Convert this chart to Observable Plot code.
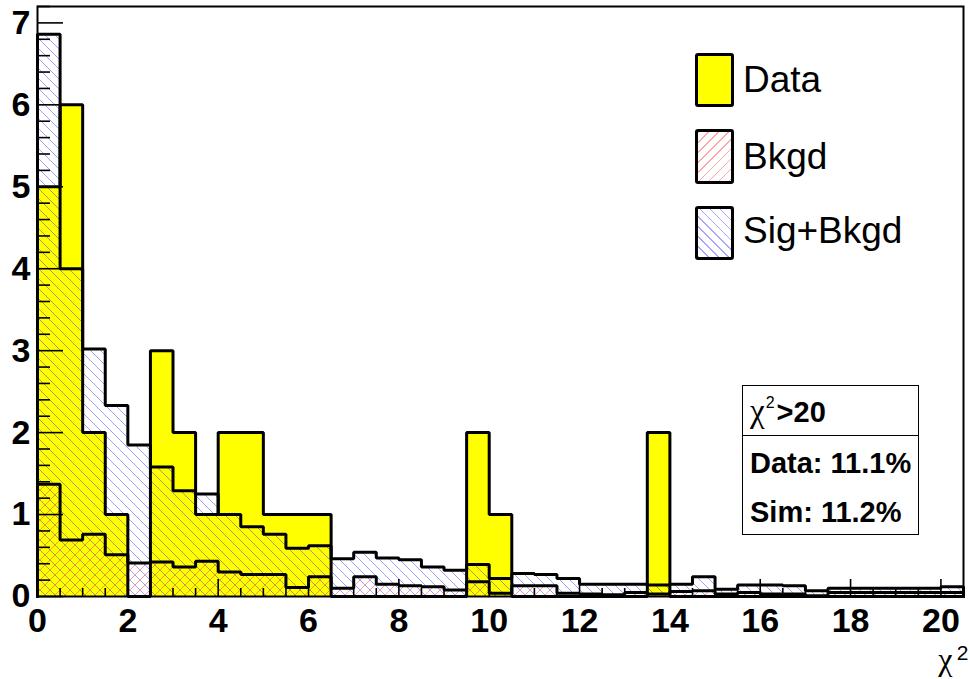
<!DOCTYPE html>
<html>
<head>
<meta charset="utf-8">
<script src="https://cdn.jsdelivr.net/npm/d3@7"></script>
<script src="https://cdn.jsdelivr.net/npm/@observablehq/plot@0.6"></script>
<style>
  html, body { margin: 0; padding: 0; background: #fff; }
  #wrap { position: relative; width: 970px; height: 679px; font-family: "Liberation Sans", Arial, sans-serif; }
  #wrap svg { position: absolute; left: 0; top: 0; }
  .sw { position: absolute; left: 695px; width: 33px; border: 3px solid #000; border-radius: 3px; background: #fff; }
  .lt { position: absolute; left: 743px; font-size: 37px; line-height: 37px; white-space: nowrap; color: #000; }
  #stats { position: absolute; left: 742px; top: 385px; width: 175px; height: 148px; border: 1px solid #000; background: #fff; }
  #stats .div { position: absolute; left: 0; top: 49px; width: 175px; height: 0; border-top: 1px solid #000; }
  .st { position: absolute; left: 7px; font-size: 29px; line-height: 29px; font-weight: bold; white-space: nowrap; }
  .chi { font-family: "Liberation Serif", serif; font-weight: normal; font-size: 33px; }
  .st sup { font-size: 16px; font-weight: normal; vertical-align: 0; position: relative; top: -14px; margin-left: 1px; margin-right: 2px; }
</style>
</head>
<body>
<div id="wrap"></div>
<script>
// ---- data (bins of width 0.5 on chi^2 from 0 to 20.5) ----
const binEdges = [0,0.5,1,1.5,2,2.5,3,3.5,4,4.5,5,5.5,6,6.5,7,7.5,8,8.5,9,9.5,10,
  10.5,11,11.5,12,12.5,13,13.5,14,14.5,15,15.5,16,16.5,17,17.5,18,18.5,19,19.5,20,20.5];
const dataCounts = [5,6,2,1,0,3,2,1,2,2,1,1,1,0,0,0,0,0,0,2,1,0,0,0,0,0,0,2,
  0,0,0,0,0,0,0,0,0,0,0,0,0];
const sigBkgd = [6.86,4.0,3.02,2.33,1.85,1.58,1.29,1.25,1.0,0.85,0.76,0.59,0.62,0.46,0.54,0.47,0.45,0.36,0.32,0.39,0.22,
  0.28,0.27,0.22,0.15,0.15,0.15,0.14,0.15,0.24,0.09,0.14,0.14,0.13,0.07,0.10,0.10,0.10,0.10,0.10,0.12];
const bkgd = [1.37,0.69,0.76,0.51,0.41,0.42,0.36,0.43,0.30,0.27,0.27,0.11,0.24,0.10,0.24,0.15,0.13,0.12,0.08,0.18,0.04,
  0.13,0.13,0.04,0.03,0.02,0.05,0.03,0.06,0.07,0.03,0.05,0.03,0.03,0.01,0.05,0.05,0.05,0.05,0.05,0.05];
const xMajorTicks = [0,2,4,6,8,10,12,14,16,18,20];
const xMinorTicks = [0.5,1,1.5,2.5,3,3.5,4.5,5,5.5,6.5,7,7.5,8.5,9,9.5,10.5,11,11.5,12.5,13,13.5,14.5,15,15.5,16.5,17,17.5,18.5,19,19.5,20.5];
const yMajorTicks = [0,1,2,3,4,5,6,7];
const yMinorTicks = [0.2,0.4,0.6,0.8,1.2,1.4,1.6,1.8,2.2,2.4,2.6,2.8,3.2,3.4,3.6,3.8,4.2,4.4,4.6,4.8,5.2,5.4,5.6,5.8,6.2,6.4,6.6,6.8,7.2];
const legendLabels = ["Data", "Bkgd", "Sig+Bkgd"];
const statsTitle = ">20";
const statsLines = ["Data: 11.1%", "Sim: 11.2%"];

// step outline points for a histogram: (x0,0) -> up -> steps -> (xN,0)
function stepPoints(vals) {
  const n = vals.length;
  const pts = [{x: binEdges[0], y: 0}];
  vals.forEach((v, i) => pts.push({x: binEdges[i], y: v}));
  pts.push({x: binEdges[n], y: vals[n - 1]});
  pts.push({x: binEdges[n], y: 0});
  return pts;
}
const dataPts = stepPoints(dataCounts);
const sigPts = stepPoints(sigBkgd);
const bkgPts = stepPoints(bkgd);

const font = '"Liberation Sans", Arial, sans-serif';
const tickStyle = {stroke: "#000", strokeWidth: 1.6, fill: "none", label: null};

const chart = Plot.plot({
  width: 970,
  height: 679,
  marginLeft: 37,
  marginRight: 7,
  marginTop: 6,
  marginBottom: 83,
  style: {background: "#fff", fontFamily: font, overflow: "visible"},
  x: {domain: [0, 20.5]},
  y: {domain: [0, 7.2]},
  marks: [
    Plot.areaY(dataPts, {x: "x", y: "y", curve: "step-after", fill: "#ffff00"}),
    Plot.areaY(bkgPts, {x: "x", y: "y", curve: "step-after", fill: "url(#hatchRed)"}),
    Plot.areaY(sigPts, {x: "x", y: "y", curve: "step-after", fill: "url(#hatchBlue)"}),
    Plot.line(dataPts, {x: "x", y: "y", curve: "step-after", stroke: "#000", strokeWidth: 3, strokeLinejoin: "miter"}),
    Plot.line(sigPts, {x: "x", y: "y", curve: "step-after", stroke: "#000", strokeWidth: 3, strokeLinejoin: "miter"}),
    Plot.line(bkgPts, {x: "x", y: "y", curve: "step-after", stroke: "#000", strokeWidth: 3, strokeLinejoin: "miter"}),
    Plot.frame({stroke: "#000", strokeWidth: 2}),
    Plot.axisX(xMinorTicks, {...tickStyle, tickSize: -8}),
    Plot.axisX(xMajorTicks, {...tickStyle, tickSize: -17}),
    Plot.axisY(yMinorTicks, {...tickStyle, tickSize: -13}),
    Plot.axisY(yMajorTicks, {...tickStyle, tickSize: -26}),
    Plot.axisX(xMajorTicks, {tickSize: 0, tickPadding: 11, fontSize: 34, fontWeight: "bold", fill: "#000", label: null, tickFormat: d => String(d)}),
    Plot.axisY(yMajorTicks, {tickSize: 0, tickPadding: 7, fontSize: 34, fontWeight: "bold", fill: "#000", label: null, tickFormat: d => String(d)}),
    Plot.text(["\u03C7"], {frameAnchor: "bottom-right", text: d => d, dx: -11, dy: 73, lineAnchor: "bottom", textAnchor: "end", fontSize: 32, fontFamily: '"Liberation Serif", serif', fill: "#000"}),
    Plot.text(["2"], {frameAnchor: "bottom-right", text: d => d, dx: 5, dy: 63, lineAnchor: "bottom", textAnchor: "end", fontSize: 21, fill: "#000"})
  ]
});

// hatch patterns
const defs = d3.select(chart).insert("defs", ":first-child");
function hatch(id, color, back) {
  const w = 10;
  const p = defs.append("pattern").attr("id", id).attr("patternUnits", "userSpaceOnUse")
    .attr("width", w).attr("height", w);
  const d = back
    ? `M0,0L${w},${w}M-1,${w - 1}L1,${w + 1}M${w - 1},-1L${w + 1},1`
    : `M0,${w}L${w},0M-1,1L1,-1M${w - 1},${w + 1}L${w + 1},${w - 1}`;
  p.append("path").attr("d", d).attr("stroke", color).attr("stroke-opacity", 0.38)
    .attr("stroke-width", 1).attr("fill", "none");
}
hatch("hatchBlue", "#0000ff", true);
hatch("hatchRed", "#ff0000", false);

const wrap = document.getElementById("wrap");
wrap.appendChild(chart);

// legend (inside plot area, top right)
const swTops = [53, 129, 206];
const swH = [48, 49, 48];
const swBg = [
  "#ffff00",
  "repeating-linear-gradient(135deg, rgba(255,0,0,0.35) 0 1px, transparent 1px 7px), #fff",
  "repeating-linear-gradient(45deg, rgba(0,0,255,0.35) 0 1px, transparent 1px 7px), #fff"
];
const textTops = [61, 138, 212];
legendLabels.forEach((lab, i) => {
  const sw = document.createElement("div");
  sw.className = "sw";
  sw.style.top = swTops[i] + "px";
  sw.style.height = swH[i] + "px";
  sw.style.background = swBg[i];
  wrap.appendChild(sw);
  const t = document.createElement("div");
  t.className = "lt";
  t.style.top = textTops[i] + "px";
  t.textContent = lab;
  wrap.appendChild(t);
});

// stats box
const stats = document.createElement("div");
stats.id = "stats";
stats.innerHTML = '<div class="div"></div>';
const t0 = document.createElement("div");
t0.className = "st";
t0.style.top = "11px";
t0.innerHTML = '<span class="chi">\u03C7</span><sup>2</sup>' + statsTitle;
stats.appendChild(t0);
statsLines.forEach((s, i) => {
  const t = document.createElement("div");
  t.className = "st";
  t.style.top = (63 + i * 49) + "px";
  t.textContent = s;
  stats.appendChild(t);
});
wrap.appendChild(stats);
</script>
</body>
</html>
